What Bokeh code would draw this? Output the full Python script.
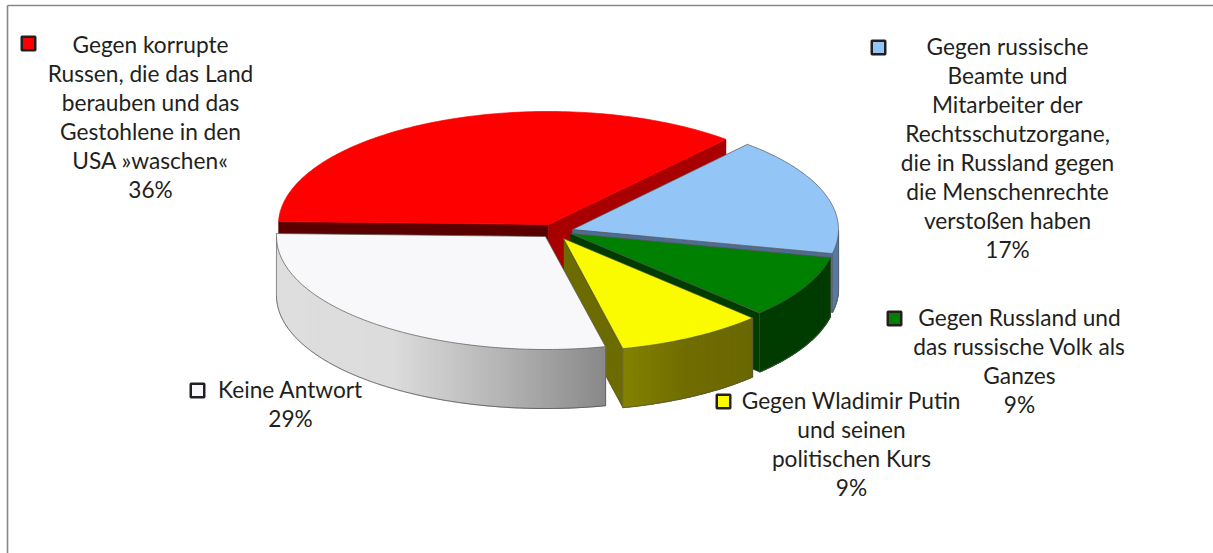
import numpy as np
from bokeh.plotting import figure
from bokeh.embed import file_html
from bokeh.resources import INLINE
from bokeh.core.properties import value

# --- chart data ---
categories = ["Gegen korrupte Russen", "Gegen russische Beamte", "Gegen Russland", "Gegen Wladimir Putin", "Keine Antwort"]
shares = [36, 17, 9, 9, 29]
top_colors = ["#ff0000", "#93c6f7", "#008000", "#fbfb00", "#f8f8fa"]
cut_colors = ["#a80000", "#4f6c90", "#003c00", "#6b6b00", "#9a9a9a"]
label_lines = [
    ["Gegen korrupte", "Russen, die das Land", "berauben und das", "Gestohlene in den", "USA »waschen«", "36%"],
    ["Gegen russische", "Beamte und", "Mitarbeiter der", "Rechtsschutzorgane,", "die in Russland gegen", "die Menschenrechte", "verstoßen haben", "17%"],
    ["Gegen Russland und", "das russische Volk als", "Ganzes", "9%"],
    ["Gegen Wladimir Putin", "und seinen", "politischen Kurs", "9%"],
    ["Keine Antwort", "29%"],
]

# --- layout ---
W, H = 1213, 553
apex = [(548, 224), (572, 229), (570, 233), (563, 238), (545, 236)]
RX = [270, 266, 266, 266, 269]
RY = 113
DEPTH = 59
START = 181.5
label_x = [150, 1007, 1019, 851, 290]
label_y0 = [44, 46, 317, 400, 389]
LINE = 29
swatch = [(28, 43), (878, 47), (894, 318), (723, 401), (197, 390)]

p = figure(width=W, height=H, x_range=(0, W), y_range=(H, 0),
           output_backend="svg", toolbar_location=None, min_border=0,
           outline_line_color=None, background_fill_color="white")
p.axis.visible = False
p.grid.visible = False


def lerp_stops(f, stops):
    xs = [s[0] for s in stops]
    rgb = [np.interp(f, xs, [s[1][i] for s in stops]) for i in range(3)]
    return "#%02x%02x%02x" % tuple(int(round(c)) for c in rgb)


side_stops = {
    1: [(0, (90, 122, 160)), (1, (90, 122, 160))],
    2: [(0, (0, 60, 0)), (1, (0, 60, 0))],
    3: [(0, (132, 130, 0)), (0.5, (112, 108, 0)), (1, (106, 104, 0))],
    4: [(0, (222, 222, 222)), (0.35, (220, 220, 220)), (0.7, (178, 178, 178)), (1, (136, 136, 136))],
}

bounds = np.concatenate([[0], np.cumsum(shares)]) / sum(shares) * 360 + START

for i in range(len(shares)):
    cx, cy = apex[i]
    a0, a1 = bounds[i], bounds[i + 1]
    ts = np.radians(np.linspace(a0, a1, 120))
    ex = cx + RX[i] * np.cos(ts)
    ey = cy + RY * np.sin(ts)

    # flat cut faces of the slice
    col_b = cut_colors[i]
    if i == 0:
        p.patch([ex[0], cx, cx, ex[0]], [ey[0], cy, cy + DEPTH, ey[0] + DEPTH], fill_color="#5a0000", line_color="#5a0000", line_width=0.5)
        p.patch([ex[-1], cx, cx, ex[-1]], [ey[-1], cy, cy + DEPTH, ey[-1] + DEPTH], fill_color=col_b, line_color=col_b, line_width=0.5)
    elif i == 3:
        p.patch([ex[-1], cx, cx, ex[-1]], [ey[-1], cy, cy + DEPTH, ey[-1] + DEPTH], fill_color=col_b, line_color="#3a3a00", line_width=0.6)
    elif i in (1, 2):
        p.patch([ex[-1], cx, cx, ex[-1]], [ey[-1], cy, cy + DEPTH, ey[-1] + DEPTH], fill_color=col_b, line_color=col_b, line_width=0.5)

    # outer rim, only its front part is seen
    if i in side_stops:
        tdeg = np.degrees(ts) % 360
        mask = tdeg <= 180
        sx, sy = ex[mask], ey[mask]
        if len(sx) > 1:
            lo, hi = sx.min(), sx.max()
            xs, ys, cs = [], [], []
            for j in range(len(sx) - 1):
                xs.append([sx[j], sx[j + 1], sx[j + 1], sx[j]])
                ys.append([sy[j], sy[j + 1], sy[j + 1] + DEPTH, sy[j] + DEPTH])
                cs.append(lerp_stops(((sx[j] + sx[j + 1]) / 2 - lo) / (hi - lo), side_stops[i]))
            p.patches(xs, ys, fill_color=cs, line_color=cs, line_width=1.2)
            p.line(sx, sy + DEPTH, line_color="#555555", line_width=0.8)
            p.line([sx[0], sx[0]], [sy[0], sy[0] + DEPTH], line_color="#555555", line_width=0.6)
            p.line([sx[-1], sx[-1]], [sy[-1], sy[-1] + DEPTH], line_color="#555555", line_width=0.6)

    # top face
    outline = None if i == 0 else "#555555"
    p.patch(np.concatenate([[cx], ex]), np.concatenate([[cy], ey]),
            fill_color=top_colors[i], line_color=outline or top_colors[i], line_width=0.7)

# frame
p.line([7, 7], [H, 5], line_color="#888888", line_width=1.6)
p.line([7, W], [5, 5], line_color="#888888", line_width=1.6)

# labels
for i, lines in enumerate(label_lines):
    p.text([label_x[i]] * len(lines), [label_y0[i] + k * LINE for k in range(len(lines))], text=lines,
           text_font=value("Lato"), text_font_size="22.7px", text_color="#231f20",
           text_align="center", text_baseline="middle")

# swatches
p.scatter([s[0] for s in swatch], [s[1] for s in swatch], marker="square", size=13.5,
          fill_color=top_colors, line_color="#231f20", line_width=2.5)

open("out.html", "w").write(file_html(p, INLINE))
